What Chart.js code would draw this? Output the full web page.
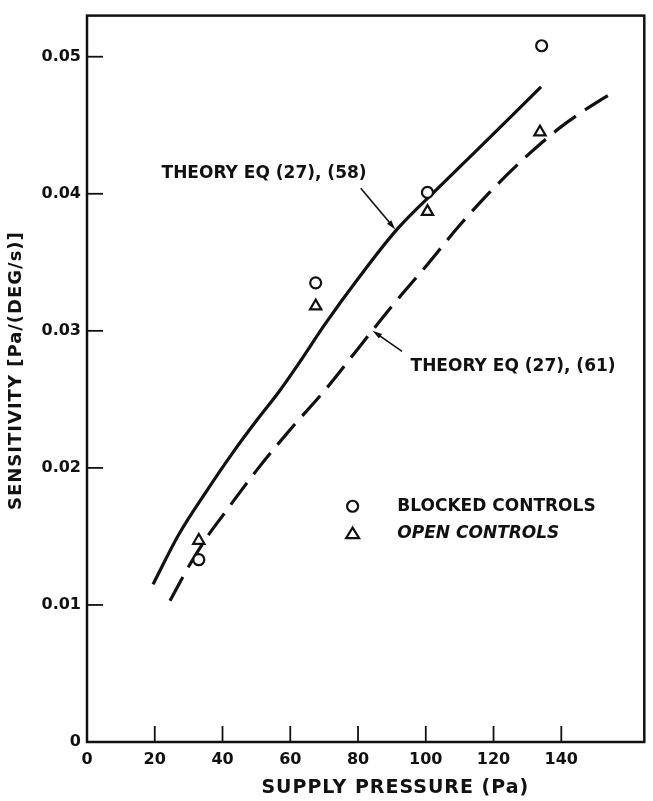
<!DOCTYPE html>
<html>
<head>
<meta charset="utf-8">
<script src="https://cdn.jsdelivr.net/npm/chart.js@4.4.1/dist/chart.umd.min.js"></script>
<style>
  html, body { margin: 0; padding: 0; background: #fff; }
  #wrap { width: 653px; height: 801px; }
</style>
</head>
<body>
<div id="wrap"><canvas id="sens"></canvas></div>
<script>
// Theory curves (supply pressure Pa -> sensitivity)
const eq58X = [19.5, 27, 35, 43, 50.5, 56.5, 63, 70, 80, 91.5, 104, 116, 125, 134];
const eq58Y = [0.0115, 0.0151, 0.0182, 0.0211, 0.0236, 0.0255, 0.0278, 0.0304, 0.0338, 0.0374, 0.0405, 0.0434, 0.0456, 0.0478];

const eq61X = [24.5, 30, 35, 40, 50, 60, 70, 80, 90, 100, 110, 120, 130, 140, 150, 156];
const eq61Y = [0.0103, 0.0128, 0.0148, 0.0165, 0.0198, 0.0228, 0.0256, 0.0287, 0.0318, 0.0347, 0.0377, 0.0404, 0.0428, 0.0449, 0.0466, 0.0475];

// Measured points
const blockedX = [33, 67.5, 100.5, 134.2];
const blockedY = [0.0133, 0.0335, 0.0401, 0.0508];
const openX = [33, 67.5, 100.5, 133.7];
const openY = [0.0147, 0.0318, 0.0387, 0.0445];

const xTicks = [0, 20, 40, 60, 80, 100, 120, 140];
const yTicks = [0, 0.01, 0.02, 0.03, 0.04, 0.05];

const xTitle = 'SUPPLY PRESSURE (Pa)';
const yTitle = 'SENSITIVITY [Pa/(DEG/s)]';

const toPts = (xs, ys) => xs.map((x, i) => ({ x: x, y: ys[i] }));

const FONT = '"DejaVu Sans", "Liberation Sans", Arial, sans-serif';
const INK = '#111';

// labels, arrows and key, placed in data units
const notes = [
  { text: 'THEORY EQ (27), (58)', x: 22.0, y: 0.0415, from: [80.8, 0.0404], to: [91.0, 0.0374] },
  { text: 'THEORY EQ (27), (61)', x: 95.5, y: 0.0274, from: [93.0, 0.0285], to: [84.3, 0.0300] }
];
const keyItems = [
  { style: 'circle', text: 'BLOCKED CONTROLS', italic: false, x: 78.4, y: 0.0172 },
  { style: 'triangle', text: 'OPEN CONTROLS', italic: true, x: 78.4, y: 0.0152 }
];
const keyTextX = 91.6;

function arrow(ctx, x1, y1, x2, y2) {
  const a = Math.atan2(y2 - y1, x2 - x1);
  const h = 10;
  ctx.beginPath();
  ctx.moveTo(x1, y1);
  ctx.lineTo(x2 - Math.cos(a) * 4, y2 - Math.sin(a) * 4);
  ctx.stroke();
  ctx.beginPath();
  ctx.moveTo(x2, y2);
  ctx.lineTo(x2 - h * Math.cos(a - 0.28), y2 - h * Math.sin(a - 0.28));
  ctx.lineTo(x2 - h * Math.cos(a + 0.28), y2 - h * Math.sin(a + 0.28));
  ctx.closePath();
  ctx.fill();
}

const frame = {
  id: 'frame',
  afterDatasetsDraw(chart) {
    const { ctx, chartArea: a, scales: { x, y } } = chart;
    ctx.save();
    ctx.strokeStyle = INK;
    ctx.fillStyle = INK;

    // box
    ctx.lineWidth = 2.5;
    ctx.strokeRect(a.left, a.top, a.right - a.left, a.bottom - a.top);

    // inward tick marks
    ctx.lineWidth = 1.8;
    xTicks.forEach(v => {
      if (v === 0) return;
      const px = x.getPixelForValue(v);
      ctx.beginPath();
      ctx.moveTo(px, a.bottom);
      ctx.lineTo(px, a.bottom - 16);
      ctx.stroke();
    });
    yTicks.forEach(v => {
      if (v === 0) return;
      const py = y.getPixelForValue(v);
      ctx.beginPath();
      ctx.moveTo(a.left, py);
      ctx.lineTo(a.left + 16, py);
      ctx.stroke();
    });

    // axis titles, slightly spaced out
    ctx.textAlign = 'center';
    ctx.textBaseline = 'middle';
    ctx.letterSpacing = '1px';
    ctx.font = 'bold 19px ' + FONT;
    ctx.fillText(xTitle, x.getPixelForValue(91), a.bottom + 46);
    ctx.font = 'bold 18px ' + FONT;
    ctx.save();
    ctx.translate(16, y.getPixelForValue(0.0271));
    ctx.rotate(-Math.PI / 2);
    ctx.fillText(yTitle, 0, 0);
    ctx.restore();
    ctx.letterSpacing = '0px';

    // curve labels
    ctx.font = 'bold 17px ' + FONT;
    ctx.textAlign = 'left';
    ctx.lineWidth = 1.6;
    notes.forEach(n => {
      ctx.fillText(n.text, x.getPixelForValue(n.x), y.getPixelForValue(n.y));
      arrow(ctx,
        x.getPixelForValue(n.from[0]), y.getPixelForValue(n.from[1]),
        x.getPixelForValue(n.to[0]), y.getPixelForValue(n.to[1]));
    });

    // key
    keyItems.forEach(k => {
      const px = x.getPixelForValue(k.x);
      const py = y.getPixelForValue(k.y);
      ctx.lineWidth = 2.2;
      ctx.fillStyle = '#fff';
      ctx.beginPath();
      if (k.style === 'circle') {
        ctx.arc(px, py, 5.5, 0, Math.PI * 2);
      } else {
        ctx.moveTo(px, py - 6);
        ctx.lineTo(px + 6.5, py + 4.5);
        ctx.lineTo(px - 6.5, py + 4.5);
        ctx.closePath();
      }
      ctx.fill();
      ctx.stroke();
      ctx.fillStyle = INK;
      ctx.font = (k.italic ? 'italic ' : '') + 'bold 17px ' + FONT;
      ctx.fillText(k.text, x.getPixelForValue(keyTextX), py);
    });
    ctx.restore();
  }
};

new Chart(document.getElementById('sens'), {
  type: 'scatter',
  data: {
    datasets: [
      {
        label: 'Blocked controls',
        data: toPts(blockedX, blockedY),
        pointStyle: 'circle',
        pointRadius: 5.5,
        borderWidth: 2.2,
        borderColor: INK,
        backgroundColor: '#fff',
        order: 0
      },
      {
        label: 'Open controls',
        data: toPts(openX, openY),
        pointStyle: 'triangle',
        pointRadius: 6.5,
        borderWidth: 2.2,
        borderColor: INK,
        backgroundColor: '#fff',
        order: 0
      },
      {
        label: 'Theory EQ (27), (58)',
        data: toPts(eq58X, eq58Y),
        showLine: true,
        cubicInterpolationMode: 'monotone',
        borderColor: INK,
        borderWidth: 3.2,
        pointRadius: 0,
        order: 1
      },
      {
        label: 'Theory EQ (27), (61)',
        data: toPts(eq61X, eq61Y),
        showLine: true,
        cubicInterpolationMode: 'monotone',
        borderColor: INK,
        borderWidth: 3.2,
        borderDash: [27, 11],
        pointRadius: 0,
        order: 1
      }
    ]
  },
  options: {
    responsive: true,
    maintainAspectRatio: false,
    animation: false,
    layout: { padding: { top: 12, right: 5, left: 0, bottom: 0 } },
    plugins: {
      legend: { display: false },
      tooltip: { enabled: false }
    },
    scales: {
      x: {
        type: 'linear',
        min: 0,
        max: 164.5,
        afterBuildTicks: s => { s.ticks = xTicks.map(v => ({ value: v })); },
        afterFit: s => { s.height = 59; },
        grid: { display: false, drawTicks: false },
        border: { display: false },
        ticks: {
          color: INK,
          padding: 8,
          maxRotation: 0,
          font: { family: FONT, size: 16, weight: 'bold' }
        }
      },
      y: {
        type: 'linear',
        min: 0,
        max: 0.053,
        afterBuildTicks: s => { s.ticks = yTicks.map(v => ({ value: v })); },
        afterFit: s => { s.width = 87; },
        grid: { display: false, drawTicks: false },
        border: { display: false },
        ticks: {
          color: INK,
          padding: 6,
          font: { family: FONT, size: 16, weight: 'bold' },
          callback: v => (v === 0 ? '0' : v.toFixed(2))
        }
      }
    }
  },
  plugins: [frame]
});
</script>
</body>
</html>
